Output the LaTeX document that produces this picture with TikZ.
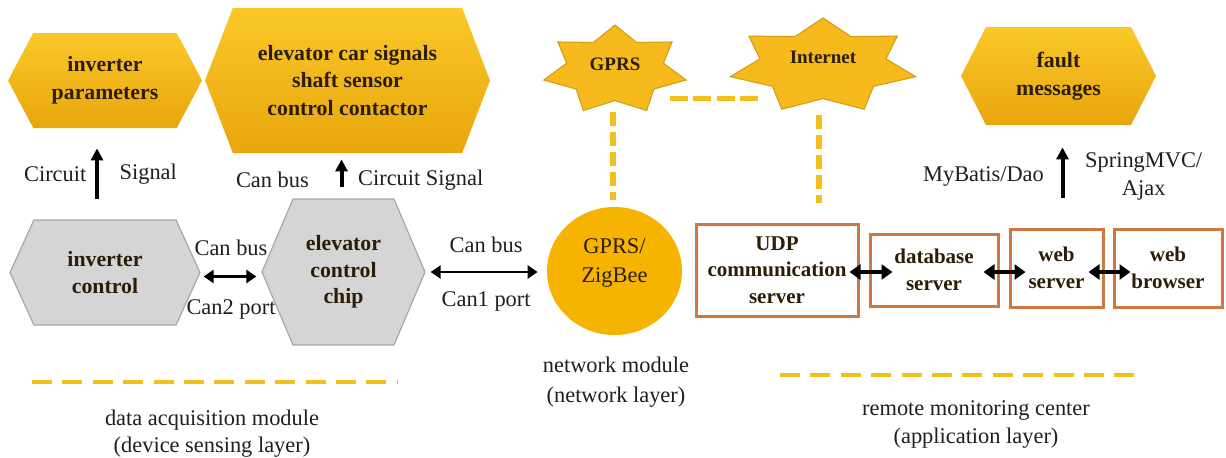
\documentclass[tikz,border=0pt]{standalone}
\usepackage{fontspec}
\setmainfont{Liberation Serif}
\usepackage{tikz}
\usetikzlibrary{positioning,arrows.meta,shapes.geometric,shapes.symbols,calc}
\usepackage{xcolor}
\definecolor{goldtop}{HTML}{FBC828}
\definecolor{goldbot}{HTML}{E8A60C}
\definecolor{starfill}{HTML}{F6BA1C}
\definecolor{starline}{HTML}{D39A12}
\definecolor{gsmgold}{HTML}{F6B400}
\definecolor{hexgray}{HTML}{D5D5D5}
\definecolor{hexline}{HTML}{A8A8A8}
\definecolor{rust}{HTML}{D07843}
\definecolor{dashgold}{HTML}{F2C01C}
\definecolor{inkbrown}{HTML}{2B1D06}

% seven-point star: centre x, centre y, x radius, y radius
\newcommand{\sevenstar}[4]{%
  \filldraw[fill=starfill, draw=starline, line width=0.5pt]
    ({#1}, {#2-#4}) foreach \k [evaluate=\k as \f using {ifthenelse(mod(\k,2)==0,1,0.68)}] in {1,...,13}
    { -- ({#1+\f*#3*cos(-90+\k*180/7)}, {#2+\f*#4*sin(-90+\k*180/7)}) } -- cycle;}

\begin{document}
\begin{tikzpicture}[x=0.5pt, y=-0.5pt,
    hexgold/.style={signal, signal to=east and west, top color=goldtop, bottom color=goldbot, draw=none, inner sep=0pt, align=center, text=inkbrown, font=\fontsize{10.9}{13.8}\selectfont\bfseries},
    hexgrey/.style={signal, signal to=east and west, fill=hexgray, draw=hexline, line width=0.6pt, inner sep=0pt, align=center, text=inkbrown, font=\fontsize{10.9}{13.3}\selectfont\bfseries},
    srvbox/.style={rectangle, draw=rust, line width=1.5pt, fill=white, inner sep=0pt, align=center, text=inkbrown, font=\fontsize{10.5}{13.2}\selectfont\bfseries},
    starlbl/.style={text=inkbrown, font=\fontsize{9.5}{11}\selectfont\bfseries},
    lbl/.style={align=center, text=black!88, font=\fontsize{11.2}{14}\selectfont},
    uparrow/.style={-{Triangle[length=6pt, width=6pt]}, line width=2pt},
    busarrow/.style={{Triangle[length=5pt, width=6.5pt]}-{Triangle[length=5pt, width=6.5pt]}, line width=1.8pt},
    srvarrow/.style={{Triangle[length=5.5pt, width=7.5pt]}-{Triangle[length=5.5pt, width=7.5pt]}, line width=2.2pt},
    netdash/.style={dashgold, line width=2.8pt, dash pattern=on 7pt off 3pt},
    linkdash/.style={dashgold, line width=2.5pt, dash pattern=on 9pt off 2.7pt},
    layerdash/.style={dashgold, line width=2pt, dash pattern=on 10pt off 5.2pt}]
    \useasboundingbox (0,0) rectangle (1226,457);

    % Device sensing layer
    \node[hexgold, minimum width=97pt, minimum height=47.5pt, signal pointer angle=124] (iparam) at (105,80.5) {inverter\\parameters};
    \node[hexgold, minimum width=142.5pt, minimum height=72.5pt, signal pointer angle=138] (carsig) at (347.5,80.5) {elevator car signals\\shaft sensor\\control contactor};
    \node[hexgrey, minimum width=95pt, minimum height=52.5pt, signal pointer angle=131] (ictrl) at (105,272.5) {inverter\\control};
    \node[hexgrey, minimum width=81.5pt, minimum height=73pt, signal pointer angle=134] (chip) at (343.5,272) {elevator\\control\\chip};

    \draw[uparrow, shorten <=10pt, shorten >=10pt] ([xshift=-4pt]ictrl.north) -- ([xshift=-4pt]iparam.south)
        node[lbl, midway, left=1pt] {Circuit}
        node[lbl, midway, right=7pt] {Signal};
    \draw[uparrow, shorten <=5.5pt, shorten >=3pt] ([xshift=-1pt]chip.north) -- ([xshift=-1pt]chip.north |- carsig.south)
        node[lbl, midway, left=12pt, yshift=-2pt] {Can bus}
        node[lbl, midway, right=4pt, yshift=-2pt] {Circuit Signal};
    \draw[busarrow, shorten <=1.5pt, shorten >=2.5pt] ([yshift=-2pt]ictrl.east) -- ([yshift=-2pt]ictrl.east -| chip.west)
        node[lbl, midway, above=6pt] {Can bus}
        node[lbl, midway, below=7.5pt] {Can2 port};

    % Network layer
    \node[ellipse, fill=gsmgold, minimum width=67.5pt, minimum height=64pt, inner sep=0pt] (gsm) at (614.5,271) {};
    \node[lbl, text=inkbrown, font=\fontsize{11.2}{14.5}\selectfont] (gsmtxt) at (614.5,262.5) {GPRS/\\ZigBee};
    \draw[busarrow, line width=1.4pt, shorten <=2.5pt, shorten >=4.5pt] (chip.east) -- (chip.east -| gsm.west)
        node[lbl, midway, above=5.5pt] {Can bus}
        node[lbl, midway, below=6pt] {Can1 port};

    \sevenstar{615}{70}{73}{45}
    \node[starlbl] (gprs) at (615,64) {GPRS};
    \sevenstar{823}{66}{95}{48}
    \node[starlbl] (inet) at (823,57) {Internet};

    \coordinate (gprsfoot) at (613,112);
    \coordinate (inetfoot) at (819,115);
    \coordinate (gprsside) at (670,98);
    \coordinate (inetside) at (758,98);
    \draw[netdash, shorten >=3.5pt] (gprsfoot) -- (gprsfoot |- gsm.north);
    \draw[linkdash] (gprsside) -- (inetside);

    % Application layer
    \node[srvbox, minimum width=81pt, minimum height=46pt] (udp) at (777,270) {UDP\\communication\\server};
    \node[srvbox, minimum width=64pt, minimum height=36pt] (dbsrv) at (934,270) {database\\server};
    \node[srvbox, minimum width=46.5pt, minimum height=39pt] (websrv) at (1056.5,268) {web\\server};
    \node[srvbox, minimum width=54pt, minimum height=39pt] (browser) at (1168,268) {web\\browser};
    \node[hexgold, minimum width=97.5pt, minimum height=49pt, signal pointer angle=126] (fault) at (1058.5,76) {fault\\messages};

    \draw[netdash, shorten >=10pt] (inetfoot) -- (inetfoot |- udp.north);

    \draw[srvarrow, shorten <=-5pt, shorten >=-12pt] ([yshift=-1pt]udp.east) -- ([yshift=-1pt]udp.east -| dbsrv.west);
    \draw[srvarrow, shorten <=-8pt, shorten >=-8.5pt] ([yshift=-1pt]dbsrv.east) -- ([yshift=-1pt]dbsrv.east -| websrv.west);
    \draw[srvarrow, shorten <=-8pt, shorten >=-9pt] ([yshift=-2pt]websrv.east) -- ([yshift=-2pt]websrv.east -| browser.west);

    \draw[uparrow, shorten <=15pt, shorten >=11pt] ([xshift=3pt]websrv.north) -- ([xshift=3pt]websrv.north |- fault.south)
        node[lbl, midway, left=5pt] {MyBatis/Dao}
        node[lbl, midway, right=7pt] {SpringMVC/\\Ajax};

    % Layer separators
    \coordinate (sepA) at (32,382);
    \coordinate (sepB) at (397,382);
    \coordinate (sepC) at (780,375);
    \coordinate (sepD) at (1143,375);
    \draw[layerdash] (sepA) -- (sepB);
    \draw[layerdash] (sepC) -- (sepD);
    \node[lbl, font=\fontsize{11.2}{13.5}\selectfont] (devlayer) at (212,433.5) {data acquisition module\\(device sensing layer)};
    \node[lbl, font=\fontsize{11.2}{15}\selectfont] (netlayer) at (616,382) {network module\\(network layer)};
    \node[lbl, font=\fontsize{11.2}{14}\selectfont] (applayer) at (976,424) {remote monitoring center\\(application layer)};
\end{tikzpicture}
\end{document}
